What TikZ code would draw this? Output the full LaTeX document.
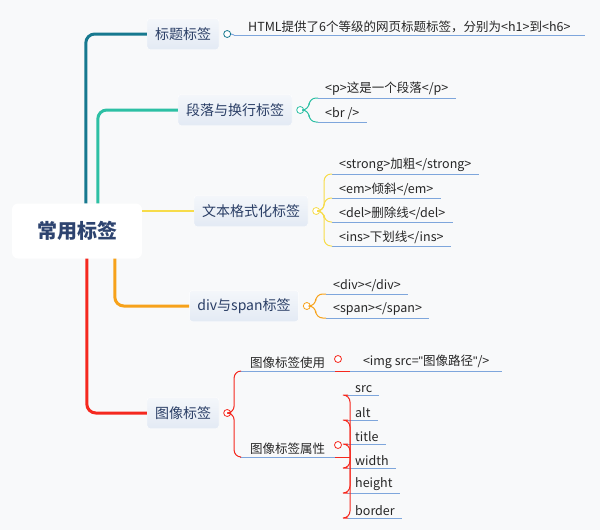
\documentclass[tikz,border=0pt]{standalone}
\usepackage{fontspec}
\setmainfont{Noto Sans CJK SC}
\newfontfamily\latq{Liberation Sans}
\usetikzlibrary{calc}
\definecolor{bg}{HTML}{F8F9FA}
\definecolor{cA}{HTML}{17798F}
\definecolor{cB}{HTML}{2DC0A4}
\definecolor{cC}{HTML}{F7DC4A}
\definecolor{cD}{HTML}{F7A21A}
\definecolor{cE}{HTML}{F5281E}
\definecolor{ul}{HTML}{7EA6DC}
\definecolor{txt}{HTML}{2E4470}
\definecolor{boxf}{HTML}{E3EAF4}
\begin{document}
\begin{tikzpicture}[x=1pt,y=-1pt,
  root/.style={fill=white,rounded corners=6pt,minimum width=130pt,minimum height=55pt,font=\fontsize{20}{22}\selectfont\bfseries,text=txt},
  main/.style={top color=white!60!boxf,bottom color=boxf,draw=white,rounded corners=3pt,minimum height=31pt,inner xsep=8pt,font=\fontsize{14}{16}\selectfont,text=txt!90!black},
  br/.style={line width=3pt,rounded corners=9pt},
  sub/.style={line width=1pt,rounded corners=7pt},
  col/.style={circle,draw,fill=white,inner sep=0pt,minimum size=7pt,line width=0.8pt},
  leaf/.style={anchor=south west,inner xsep=7pt,inner ysep=2pt,font=\fontsize{12.5}{14}\selectfont,text=black!85,
    append after command={(\tikzlastnode.south west) edge[draw=ul,line width=1pt] (\tikzlastnode.south east)}}]
\fill[bg] (0,0) rectangle (600,530);
\useasboundingbox (0,0) rectangle (600,530);
% root and main nodes
\node[root] (root) at (77,231) {常用标签};
\node[main] (n1) at (183,34) {标题标签};
\node[main] (n2) at (235,110) {段落与换行标签};
\node[main] (n3) at (251,211) {文本格式化标签};
\node[main] (n4) at (244,306) {div与span标签};
\node[main] (n5) at (183,413) {图像标签};
% main branches
\draw[br,cA] ([xshift=74pt]root.north west) |- (n1.west);
\draw[br,cB] ([xshift=86pt]root.north west) |- (n2.west);
\draw[line width=2pt,cC] ([yshift=20pt]root.east) -- (n3.west);
\draw[br,cD] ([xshift=103pt]root.south west) |- (n4.west);
\draw[br,cE] ([xshift=75pt]root.south west) |- (n5.west);
% collapse circles
\node[col,draw=cA] (c1) at ($(n1.east)+(8,0)$) {};
\node[col,draw=cB] (c2) at ($(n2.east)+(8,0)$) {};
\node[col,draw=cC] (c3) at ($(n3.east)+(8,0)$) {};
\node[col,draw=cD] (c4) at ($(n4.east)+(8,0)$) {};
\node[col,draw=cE] (c5) at ($(n5.east)+(8,0)$) {};
% branch 1
\node[leaf,inner xsep=14pt] (l1) at (234,35) {HTML提供了6个等级的网页标题标签，分别为<h1>到<h6>};
\draw[ul,line width=1pt] (c1.east) -- (l1.south west);
% branch 2
\node[leaf] (l21) at (318,98) {<p>这是一个段落</p>};
\node[leaf] (l22) at (318,122) {<br />};
\foreach \l in {l21,l22}
  \draw[sub,cB] (c2.east) -- ++(5,0) |- (\l.south west);
% branch 3
\node[leaf] (l31) at (332,174) {<strong>加粗</strong>};
\node[leaf] (l32) at (332,198) {<em>倾斜</em>};
\node[leaf] (l33) at (332,222) {<del>删除线</del>};
\node[leaf] (l34) at (332,246) {<ins>下划线</ins>};
\foreach \l in {l31,l32,l33,l34}
  \draw[sub,cC] (c3.east) -- ++(4,0) |- (\l.south west);
% branch 4
\node[leaf] (l41) at (326,294) {<div></div>};
\node[leaf] (l42) at (326,318) {<span></span>};
\foreach \l in {l41,l42}
  \draw[sub,cD] (c4.east) -- ++(5,0) |- (\l.south west);
% branch 5
\node[leaf,inner xsep=10pt] (s1) at (240,371) {图像标签使用};
\node[leaf,inner xsep=10pt] (s2) at (240,457) {图像标签属性};
\foreach \l in {s1,s2}
  \draw[sub,cE] (c5.east) -- ++(3,0) |- (\l.south west);
\node[col,draw=cE] (c51) at (338,359) {};
\node[col,draw=cE] (c52) at (338,445) {};
\coordinate (e1) at (350,371);
\coordinate (e2) at (350,457);
\draw[cE,line width=1pt] (s1.south east) -- (e1);
\draw[cE,line width=1pt] (s2.south east) -- (e2);
\node[leaf,inner xsep=8pt,minimum width=152pt,align=left] (l51) at (e1) {<img src={\latq\symbol{34}}图像路径{\latq\symbol{34}}/>};
\node[leaf] (a1) at (348,395) {src};
\node[leaf] (a2) at (348,420) {alt};
\node[leaf] (a3) at (348,444) {title};
\node[leaf] (a4) at (348,468) {width};
\node[leaf] (a5) at (348,493) {height};
\node[leaf] (a6) at (348,518) {border};
\foreach \l in {a1,a2,a3,a4,a5,a6}
  \draw[sub,cE] (e2) |- (\l.south west);
\end{tikzpicture}
\end{document}
